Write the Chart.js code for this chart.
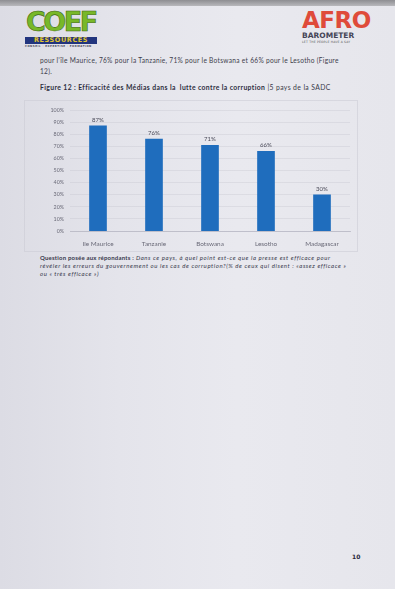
<!DOCTYPE html>
<html>
<head>
<meta charset="utf-8">
<script src="https://cdn.jsdelivr.net/npm/chart.js@4/dist/chart.umd.min.js"></script>
<style>
  html, body { margin: 0; padding: 0; }
  body {
    width: 395px; height: 589px; position: relative; overflow: hidden;
    background: linear-gradient(90deg, #dcdce4 0%, #e4e4eb 30%, #e9e9ef 60%, #e6e6ec 100%);
    font-family: "Lato", "Open Sans", sans-serif; color: #3a3a48;
  }
  .topband { position: absolute; left: 0; top: 0; width: 395px; height: 6px;
    background: linear-gradient(180deg, #8e8e92, #b8b8bc); }
  .abs { position: absolute; white-space: nowrap; }
  .coef { left: 26px; top: 8px; font: 900 27px/27px "DejaVu Sans", sans-serif; color: #78b829;
    letter-spacing: -2.5px; -webkit-text-stroke: 0.6px #3f6a14; }
  .res { left: 25px; top: 37px; width: 72px; height: 7px; background: #22357e; color: #e3c62a;
    font: 900 6.5px/7px "DejaVu Sans", sans-serif; text-align: center; letter-spacing: 0.6px; }
  .restag { left: 25px; top: 45px; font: 700 2.6px/3px "DejaVu Sans", sans-serif; color: #445; letter-spacing: 0.5px; }
  .afro { left: 302px; top: 9px; font: 900 23px/23px "DejaVu Sans", sans-serif; color: #df4b3a; letter-spacing: -0.5px; }
  .baro { left: 302px; top: 32px; font: 700 7.5px/8px "DejaVu Sans", sans-serif; color: #444456; }
  .tag { left: 302px; top: 41px; font: 400 3px/3px "DejaVu Sans", sans-serif; color: #555; letter-spacing: 0.2px; }
  .txt { font-size: 6.6px; line-height: 7px; color: #3e3e4c; letter-spacing: 0.28px; }
  .title { left: 40px; top: 84px; font-size: 6.8px; line-height: 7px; color: #3a3a4a; letter-spacing: 0.38px; }
  .title b { font-weight: 700; color: #2e2e3e; }
  .q { left: 40px; font-size: 6px; line-height: 7px; color: #38384c; font-style: italic; letter-spacing: 0.58px; }
  .q b { font-style: normal; font-weight: 700; letter-spacing: 0.2px; }
  #wrap { position: absolute; left: 24px; top: 100px; width: 334px; height: 152px;
    border: 1px solid rgba(200,200,210,0.5); box-sizing: border-box; }
  .pg { left: 352px; top: 553px; font: 700 6px/7px "DejaVu Sans", sans-serif; color: #2a2a3a; }
</style>
</head>
<body>
<div class="topband"></div>
<div class="abs coef">COEF</div>
<div class="abs res">RESSOURCES</div>
<div class="abs restag">CONSEIL · EXPERTISE · FORMATION</div>
<div class="abs afro">AFRO</div>
<div class="abs baro">BAROMETER</div>
<div class="abs tag">LET THE PEOPLE HAVE A SAY</div>

<div class="abs txt" style="left:40px;top:57px;">pour l’île Maurice, 76% pour la Tanzanie, 71% pour le Botswana et 66% pour le Lesotho (Figure</div>
<div class="abs txt" style="left:40px;top:68px;">12).</div>
<div class="abs title"><b>Figure 12 : Efficacité des Médias dans la&nbsp; lutte contre la corruption</b> |5 pays de la SADC</div>

<div id="wrap"><canvas id="c"></canvas></div>

<div class="abs q" style="top:254px;"><b>Question posée aux répondants :</b> Dans ce pays, à quel point est-ce que la presse est efficace pour</div>
<div class="abs q" style="top:262px;">révéler les erreurs du gouvernement ou les cas de corruption?(% de ceux qui disent : «assez efficace »</div>
<div class="abs q" style="top:270px;">ou « très efficace »)</div>

<div class="abs pg">10</div>

<script>
// Figure 12 data: share saying the press is effective, by country
const countries = ["Ile Maurice", "Tanzanie", "Botswana", "Lesotho", "Madagascar"];
const effectiveness = [87, 76, 71, 66, 30];
const yTicks = [0, 10, 20, 30, 40, 50, 60, 70, 80, 90, 100];

// Writes "NN%" above each bar, using the bar's own position
const valueLabels = {
  id: "valueLabels",
  afterDatasetsDraw(chart) {
    const ctx = chart.ctx;
    const meta = chart.getDatasetMeta(0);
    ctx.save();
    ctx.font = "6px Lato, sans-serif";
    ctx.fillStyle = "#4a4a58";
    ctx.textAlign = "center";
    ctx.textBaseline = "bottom";
    meta.data.forEach((bar, i) => {
      ctx.fillText(effectiveness[i] + "%", bar.x, bar.y - 3);
    });
    ctx.restore();
  }
};

new Chart(document.getElementById("c"), {
  type: "bar",
  data: {
    labels: countries,
    datasets: [{
      data: effectiveness,
      backgroundColor: "#1f6dbd",
      barThickness: 17
    }]
  },
  options: {
    responsive: true,
    maintainAspectRatio: false,
    animation: false,
    layout: { padding: { top: 8, right: 7, bottom: 3, left: 0 } },
    plugins: { legend: { display: false }, tooltip: { enabled: false } },
    scales: {
      x: {
        grid: { display: false },
        border: { display: true, color: "rgba(180,180,192,0.7)" },
        ticks: { color: "#6a6a78", font: { size: 6.4, family: "Lato" }, padding: 1, maxRotation: 0 },
        afterFit(s) { s.height = 17; }
      },
      y: {
        min: 0, max: 100,
        afterBuildTicks(s) { s.ticks = yTicks.map(v => ({ value: v })); },
        grid: { color: "rgba(185,185,198,0.4)", lineWidth: 0.7, drawTicks: false },
        border: { display: false },
        ticks: { color: "#6a6a78", font: { size: 5.3, family: "Lato" }, padding: 6,
                 callback: v => v + "%" },
        afterFit(s) { s.width = 45; }
      }
    }
  },
  plugins: [valueLabels]
});
</script>
</body>
</html>
